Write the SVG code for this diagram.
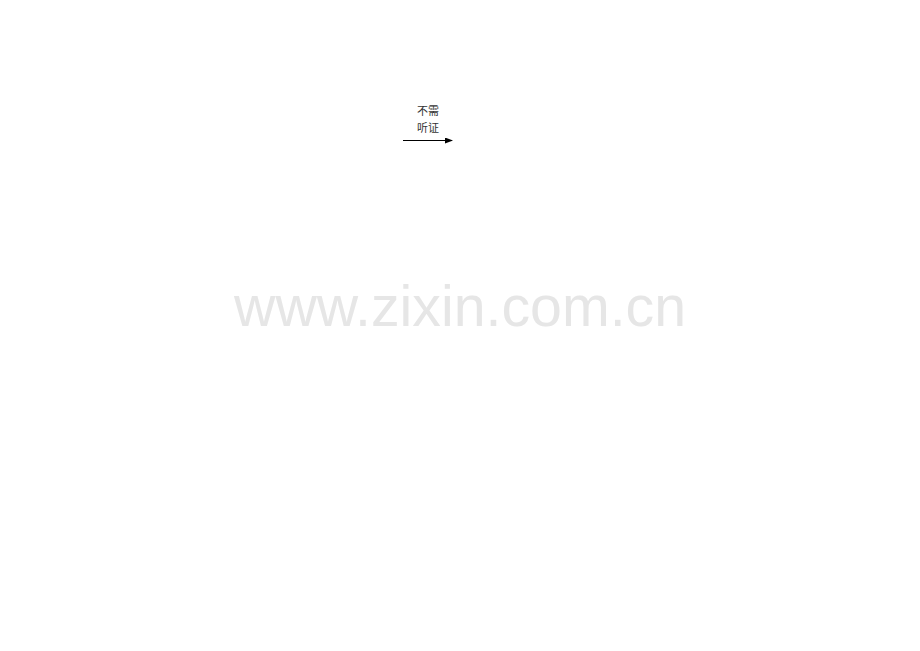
<svg xmlns="http://www.w3.org/2000/svg" width="920" height="651" viewBox="0 0 920 651">
<style>
.lbl{font-family:"Liberation Serif","Noto Sans CJK SC",serif;font-size:11px;fill:#333;text-anchor:middle}
.wm{font-family:"Liberation Sans",Arial,sans-serif;font-size:57.3px;fill:#e6e6e6}
</style>
<defs>
<marker id="ah" markerWidth="8" markerHeight="6" refX="7" refY="3" orient="auto" markerUnits="userSpaceOnUse">
<path d="M0,0 L8,3 L0,6 Z" fill="#000"/>
</marker>
</defs>
<rect width="920" height="651" fill="#fff"/>
<text class="wm" x="234" y="326">www.zixin.com.cn</text>
<g id="connectors">
<line x1="403" y1="140.5" x2="452" y2="140.5" stroke="#000" stroke-width="1" marker-end="url(#ah)"/>
</g>
<g id="label">
<text class="lbl" x="428" y="115">不需</text>
<text class="lbl" x="428" y="132">听证</text>
</g>
</svg>
